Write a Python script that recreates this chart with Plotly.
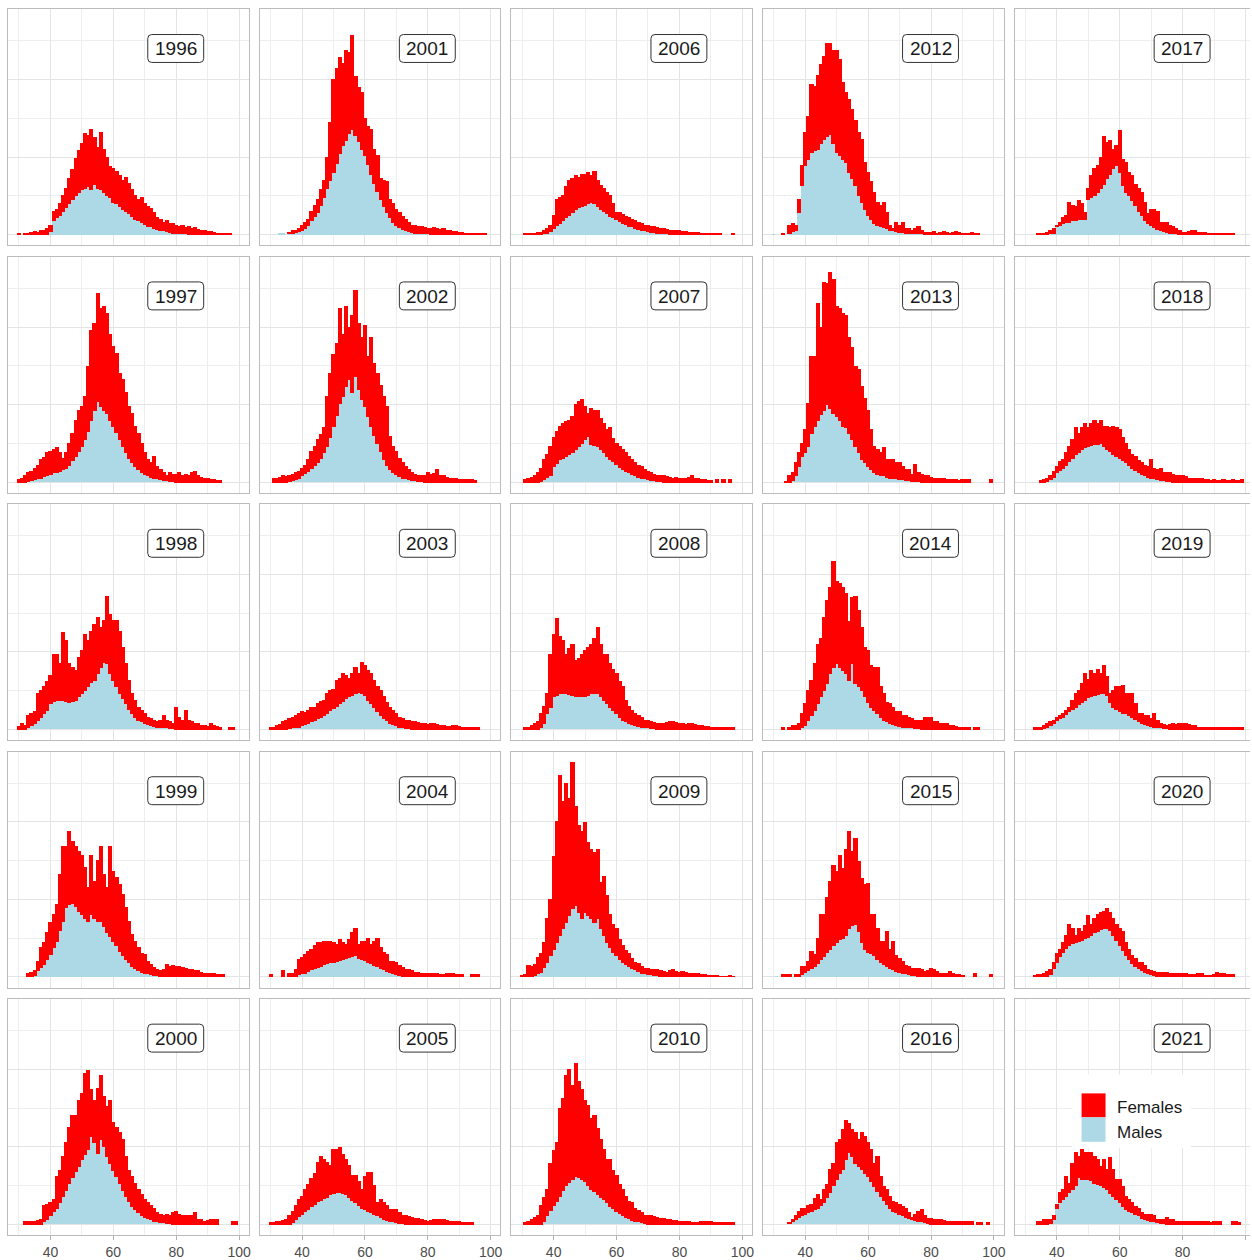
import plotly.graph_objects as go

W, H = 1252, 1260

# histogram bins (1-unit wide, centres)
bins = list(range(30, 100))

# panel order (column-major, 5 x 5 facets)
panel_years = [1996, 1997, 1998, 1999, 2000,
               2001, 2002, 2003, 2004, 2005,
               2006, 2007, 2008, 2009, 2010,
               2012, 2013, 2014, 2015, 2016,
               2017, 2018, 2019, 2020, 2021]

x_ticks = [40, 60, 80, 100]
x_minor = [30, 50, 70, 90]
y_major = [0, 100, 200]
y_minor = [50, 150, 250]

# total = height of the stacked bar (females + males); males = lower part
total_1996 = [1, 0, 2, 2, 3, 4, 3, 6, 5, 8,
              12, 30, 32, 40, 50, 60, 72, 84, 98, 108,
              118, 130, 128, 136, 125, 112, 132, 110, 100, 88,
              85, 82, 76, 70, 74, 66, 58, 50, 46, 48,
              40, 36, 34, 28, 22, 20, 16, 18, 14, 15,
              12, 10, 12, 9, 10, 8, 9, 7, 6, 5,
              4, 4, 3, 2, 2, 1, 1, 1, 0, 0]
males_1996 = [0, 0, 0, 0, 0, 0, 0, 0, 0, 0,
              4, 18, 22, 25, 30, 35, 40, 45, 50, 55,
              58, 60, 62, 58, 65, 60, 58, 55, 50, 48,
              42, 40, 36, 32, 30, 27, 24, 20, 18, 16,
              13, 11, 10, 8, 7, 6, 5, 4, 3, 2,
              2, 1, 1, 1, 0, 0, 0, 0, 0, 0,
              0, 0, 0, 0, 0, 0, 0, 0, 0, 0]

total_1997 = [3, 5, 8, 12, 14, 18, 22, 29, 32, 38,
              40, 42, 44, 38, 30, 38, 50, 63, 80, 93,
              97, 110, 149, 196, 204, 243, 224, 226, 217, 191,
              175, 166, 140, 132, 115, 97, 89, 72, 63, 50,
              38, 29, 25, 33, 20, 16, 12, 8, 12, 10,
              10, 12, 8, 10, 8, 12, 14, 8, 6, 5,
              5, 3, 3, 2, 2, 0, 0, 0, 0, 0]
males_1997 = [0, 0, 0, 1, 2, 3, 4, 5, 7, 9,
              10, 12, 13, 14, 16, 18, 22, 28, 33, 40,
              46, 55, 65, 80, 93, 104, 97, 93, 89, 80,
              72, 64, 55, 46, 38, 31, 25, 20, 16, 13,
              10, 8, 6, 5, 4, 3, 2, 2, 1, 1,
              0, 0, 0, 0, 0, 0, 0, 0, 0, 0,
              0, 0, 0, 0, 0, 0, 0, 0, 0, 0]

total_1998 = [4, 8, 5, 18, 20, 23, 46, 50, 55, 62,
              70, 97, 97, 85, 125, 115, 85, 80, 76, 93,
              102, 123, 115, 127, 135, 145, 132, 141, 172, 149,
              141, 141, 127, 106, 85, 63, 46, 38, 29, 25,
              20, 16, 14, 12, 10, 12, 18, 12, 10, 8,
              29, 16, 12, 25, 12, 10, 8, 8, 5, 5,
              4, 8, 5, 4, 3, 0, 0, 3, 3, 0]
males_1998 = [0, 0, 0, 3, 5, 8, 12, 16, 20, 25,
              33, 36, 38, 38, 38, 36, 35, 36, 38, 42,
              46, 50, 55, 60, 63, 72, 80, 87, 85, 72,
              63, 55, 46, 40, 33, 26, 20, 15, 12, 10,
              8, 6, 5, 4, 3, 3, 2, 2, 1, 1,
              0, 0, 0, 0, 0, 0, 0, 0, 0, 0,
              0, 0, 0, 0, 0, 0, 0, 0, 0, 0]

total_1999 = [0, 0, 0, 5, 6, 8, 20, 38, 45, 57,
              70, 80, 93, 132, 168, 168, 187, 175, 168, 162,
              157, 141, 115, 157, 123, 150, 168, 132, 115, 168,
              136, 128, 119, 106, 89, 72, 55, 46, 38, 30,
              29, 20, 16, 12, 10, 8, 10, 16, 14, 15,
              14, 13, 12, 11, 10, 10, 8, 8, 6, 5,
              4, 4, 4, 3, 3, 3, 0, 0, 0, 0]
males_1999 = [0, 0, 0, 0, 0, 2, 8, 12, 16, 22,
              29, 38, 46, 60, 72, 89, 93, 95, 91, 85,
              80, 76, 72, 80, 76, 72, 72, 65, 57, 52,
              46, 40, 33, 28, 23, 18, 14, 11, 8, 6,
              5, 4, 3, 2, 2, 1, 1, 0, 0, 0,
              0, 0, 0, 0, 0, 0, 0, 0, 0, 0,
              0, 0, 0, 0, 0, 0, 0, 0, 0, 0]

total_2000 = [0, 0, 4, 4, 4, 4, 5, 6, 24, 26,
              28, 32, 62, 70, 88, 106, 125, 140, 140, 160,
              169, 194, 199, 174, 160, 175, 192, 165, 152, 160,
              131, 125, 118, 109, 88, 70, 62, 53, 45, 38,
              32, 28, 24, 21, 15, 13, 11, 13, 12, 15,
              17, 13, 12, 11, 11, 11, 15, 6, 6, 4,
              5, 6, 6, 6, 0, 0, 0, 0, 3, 3]
males_2000 = [0, 0, 0, 0, 0, 0, 0, 0, 3, 6,
              11, 16, 21, 28, 36, 44, 53, 60, 68, 75,
              83, 90, 96, 113, 105, 92, 109, 100, 88, 79,
              70, 62, 53, 44, 36, 29, 23, 19, 15, 12,
              9, 7, 6, 4, 3, 2, 2, 1, 1, 0,
              0, 0, 0, 0, 0, 0, 0, 0, 0, 0,
              0, 0, 0, 0, 0, 0, 0, 0, 0, 0]

total_2001 = [0, 0, 0, 2, 2, 0, 3, 5, 6, 8,
              12, 16, 20, 30, 38, 46, 58, 70, 100, 145,
              200, 215, 228, 221, 238, 235, 257, 204, 190, 183,
              150, 140, 136, 110, 102, 72, 70, 68, 46, 40,
              33, 28, 24, 20, 16, 12, 12, 10, 10, 9,
              8, 8, 9, 8, 7, 8, 6, 5, 4, 4,
              3, 3, 2, 2, 2, 2, 2, 2, 1, 0]
males_2001 = [0, 0, 0, 2, 2, 0, 1, 2, 3, 4,
              5, 8, 12, 18, 24, 29, 38, 48, 60, 70,
              80, 92, 105, 115, 122, 130, 136, 128, 120, 110,
              102, 90, 78, 66, 56, 46, 36, 28, 22, 16,
              12, 9, 7, 5, 4, 3, 2, 2, 1, 1,
              1, 0, 0, 0, 0, 0, 0, 0, 0, 0,
              0, 0, 0, 0, 0, 0, 0, 0, 0, 0]

total_2002 = [0, 4, 5, 6, 8, 7, 8, 10, 12, 14,
              18, 22, 29, 40, 46, 55, 62, 70, 110, 140,
              165, 179, 224, 191, 226, 200, 215, 247, 204, 187,
              202, 162, 187, 153, 140, 125, 110, 97, 59, 46,
              40, 31, 25, 20, 16, 12, 10, 8, 9, 8,
              12, 10, 11, 16, 8, 8, 6, 5, 5, 4,
              3, 3, 3, 3, 3, 2, 0, 0, 0, 0]
males_2002 = [0, 0, 0, 0, 0, 0, 1, 2, 3, 5,
              8, 11, 14, 18, 21, 25, 31, 38, 46, 58,
              72, 86, 102, 110, 123, 132, 115, 136, 119, 106,
              97, 85, 72, 60, 50, 40, 29, 22, 16, 12,
              10, 7, 5, 4, 3, 2, 2, 1, 1, 0,
              0, 0, 0, 0, 0, 0, 0, 0, 0, 0,
              0, 0, 0, 0, 0, 0, 0, 0, 0, 0]

total_2003 = [3, 3, 5, 6, 10, 12, 14, 16, 18, 20,
              23, 22, 25, 28, 29, 33, 36, 38, 46, 50,
              52, 63, 66, 72, 70, 66, 72, 80, 72, 87,
              82, 76, 72, 63, 55, 50, 42, 35, 29, 25,
              20, 16, 14, 12, 11, 10, 10, 9, 8, 8,
              7, 8, 8, 6, 5, 5, 4, 4, 5, 5,
              4, 3, 3, 3, 2, 3, 3, 0, 0, 0]
males_2003 = [0, 0, 0, 0, 0, 0, 1, 2, 3, 3,
              5, 6, 8, 10, 12, 14, 16, 18, 20, 24,
              27, 30, 33, 36, 40, 42, 44, 46, 48, 46,
              44, 38, 33, 28, 23, 18, 14, 11, 8, 6,
              5, 3, 2, 1, 1, 0, 0, 0, 0, 0,
              0, 0, 0, 0, 0, 0, 0, 0, 0, 0,
              0, 0, 0, 0, 0, 0, 0, 0, 0, 0]

total_2004 = [3, 0, 0, 0, 8, 0, 5, 5, 10, 23,
              25, 29, 33, 35, 40, 44, 44, 46, 46, 46,
              44, 42, 48, 45, 42, 48, 57, 62, 42, 46,
              46, 50, 42, 46, 50, 38, 32, 29, 20, 20,
              18, 15, 12, 10, 9, 8, 6, 6, 5, 5,
              4, 4, 4, 4, 3, 3, 4, 5, 5, 3,
              3, 3, 0, 0, 3, 3, 3, 0, 0, 0]
males_2004 = [0, 0, 0, 0, 0, 0, 0, 0, 1, 3,
              4, 5, 7, 9, 11, 12, 14, 16, 17, 18,
              19, 20, 21, 23, 24, 25, 26, 28, 24, 22,
              21, 19, 17, 15, 13, 11, 9, 7, 6, 4,
              3, 2, 1, 1, 0, 0, 0, 0, 0, 0,
              0, 0, 0, 0, 0, 0, 0, 0, 0, 0,
              0, 0, 0, 0, 0, 0, 0, 0, 0, 0]

total_2005 = [2, 2, 4, 4, 5, 6, 12, 17, 24, 32,
              36, 45, 52, 59, 66, 80, 88, 84, 80, 76,
              97, 97, 99, 90, 84, 76, 63, 63, 55, 45,
              62, 67, 67, 50, 28, 32, 28, 24, 19, 19,
              19, 15, 11, 11, 10, 9, 8, 7, 6, 5,
              4, 5, 6, 6, 6, 6, 5, 4, 4, 3,
              3, 2, 2, 2, 2, 0, 0, 0, 0, 0]
males_2005 = [0, 0, 0, 0, 0, 0, 0, 2, 6, 10,
              13, 16, 19, 23, 26, 29, 31, 33, 35, 38,
              40, 41, 41, 40, 38, 35, 31, 28, 24, 21,
              19, 17, 15, 13, 11, 9, 6, 5, 4, 3,
              2, 1, 1, 0, 0, 0, 0, 0, 0, 0,
              0, 0, 0, 0, 0, 0, 0, 0, 0, 0,
              0, 0, 0, 0, 0, 0, 0, 0, 0, 0]

total_2006 = [0, 1, 1, 2, 2, 3, 3, 5, 8, 12,
              25, 46, 48, 50, 62, 70, 72, 76, 74, 78,
              78, 80, 76, 82, 70, 63, 60, 55, 50, 40,
              29, 28, 26, 23, 22, 20, 18, 16, 14, 12,
              12, 10, 10, 9, 8, 8, 7, 6, 6, 5,
              5, 4, 4, 3, 3, 3, 3, 2, 2, 2,
              2, 2, 2, 1, 0, 0, 0, 2, 0, 0]
males_2006 = [0, 0, 0, 0, 0, 0, 0, 1, 2, 4,
              8, 12, 15, 18, 22, 25, 28, 32, 35, 37,
              38, 40, 41, 40, 36, 32, 30, 27, 24, 22,
              20, 17, 15, 13, 11, 10, 8, 7, 6, 5,
              4, 3, 3, 2, 2, 1, 1, 0, 0, 0,
              0, 0, 0, 0, 0, 0, 0, 0, 0, 0,
              0, 0, 0, 0, 0, 0, 0, 0, 0, 0]

total_2007 = [0, 3, 5, 6, 8, 12, 18, 29, 36, 46,
              57, 65, 72, 76, 78, 80, 85, 100, 104, 106,
              98, 89, 95, 92, 93, 82, 75, 68, 70, 56,
              50, 46, 42, 38, 33, 29, 25, 22, 20, 16,
              14, 12, 10, 9, 8, 8, 7, 6, 5, 6,
              5, 5, 4, 6, 8, 5, 4, 3, 3, 2,
              2, 0, 3, 0, 3, 0, 3, 0, 0, 0]
males_2007 = [0, 0, 0, 0, 0, 0, 1, 3, 6, 9,
              20, 24, 29, 31, 33, 35, 38, 42, 46, 50,
              55, 59, 48, 47, 46, 42, 38, 33, 29, 26,
              23, 19, 16, 14, 12, 10, 8, 6, 5, 4,
              3, 2, 2, 1, 1, 0, 0, 0, 0, 0,
              0, 0, 0, 0, 0, 0, 0, 0, 0, 0,
              0, 0, 0, 0, 0, 0, 0, 0, 0, 0]

total_2008 = [0, 3, 3, 5, 8, 10, 20, 30, 46, 97,
              123, 143, 120, 115, 97, 104, 110, 89, 92, 97,
              102, 106, 110, 118, 132, 110, 97, 97, 85, 78,
              72, 62, 55, 38, 30, 25, 20, 18, 16, 12,
              11, 10, 9, 8, 8, 8, 9, 10, 10, 9,
              8, 8, 7, 8, 8, 6, 5, 5, 4, 4,
              3, 3, 3, 2, 2, 2, 3, 3, 0, 0]
males_2008 = [0, 0, 0, 0, 0, 0, 3, 8, 20, 29,
              42, 44, 46, 46, 46, 45, 44, 43, 42, 42,
              42, 44, 46, 46, 46, 42, 38, 33, 29, 24,
              20, 16, 12, 10, 8, 6, 5, 4, 3, 2,
              2, 1, 1, 0, 0, 0, 0, 0, 0, 0,
              0, 0, 0, 0, 0, 0, 0, 0, 0, 0,
              0, 0, 0, 0, 0, 0, 0, 0, 0, 0]

total_2009 = [2, 3, 15, 14, 16, 25, 30, 45, 75, 100,
              156, 200, 260, 226, 250, 230, 277, 220, 196, 187,
              199, 174, 165, 160, 165, 122, 130, 105, 80, 68,
              62, 48, 40, 34, 30, 24, 19, 17, 14, 11,
              11, 10, 9, 9, 8, 7, 6, 8, 9, 7,
              6, 7, 6, 5, 4, 4, 5, 3, 3, 2,
              2, 2, 2, 1, 1, 1, 2, 1, 0, 0]
males_2009 = [0, 0, 0, 1, 2, 4, 6, 12, 19, 28,
              36, 45, 53, 62, 70, 79, 88, 92, 83, 75,
              83, 79, 75, 70, 75, 62, 53, 45, 38, 32,
              27, 23, 19, 16, 13, 11, 9, 7, 5, 4,
              3, 3, 2, 2, 1, 1, 0, 0, 0, 0,
              0, 0, 0, 0, 0, 0, 0, 0, 0, 0,
              0, 0, 0, 0, 0, 0, 0, 0, 0, 0]

total_2010 = [0, 2, 3, 6, 9, 11, 24, 35, 45, 79,
              95, 106, 149, 162, 192, 200, 179, 208, 184, 174,
              160, 153, 136, 140, 123, 110, 97, 84, 84, 70,
              63, 52, 45, 36, 30, 28, 21, 18, 15, 11,
              11, 11, 10, 9, 8, 7, 6, 6, 5, 5,
              4, 3, 3, 3, 2, 2, 2, 3, 4, 4,
              3, 2, 2, 2, 2, 2, 2, 2, 0, 0]
males_2010 = [0, 0, 0, 0, 0, 0, 0, 3, 11, 18,
              24, 30, 36, 43, 50, 54, 58, 62, 60, 58,
              55, 50, 45, 42, 39, 35, 32, 28, 23, 20,
              17, 14, 11, 9, 7, 5, 4, 3, 2, 1,
              0, 0, 0, 0, 0, 0, 0, 0, 0, 0,
              0, 0, 0, 0, 0, 0, 0, 0, 0, 0,
              0, 0, 0, 0, 0, 0, 0, 0, 0, 0]

total_2012 = [1, 0, 0, 1, 0, 12, 14, 12, 46, 89,
              132, 153, 194, 191, 206, 219, 230, 247, 247, 238,
              238, 226, 196, 183, 174, 162, 147, 132, 123, 93,
              80, 68, 55, 42, 38, 42, 29, 12, 8, 16,
              12, 16, 8, 8, 6, 8, 10, 6, 3, 3,
              3, 4, 2, 3, 4, 3, 2, 3, 4, 3,
              2, 2, 2, 3, 2, 1, 0, 0, 0, 0]
males_2012 = [1, 0, 0, 0, 0, 2, 4, 6, 29, 63,
              89, 97, 106, 108, 110, 118, 123, 127, 129, 118,
              106, 102, 97, 93, 80, 72, 63, 50, 42, 33,
              25, 20, 15, 12, 10, 9, 8, 6, 5, 4,
              3, 3, 2, 2, 2, 1, 1, 1, 0, 0,
              0, 0, 0, 0, 0, 0, 0, 0, 0, 0,
              0, 0, 0, 0, 0, 0, 0, 0, 0, 0]

total_2013 = [0, 0, 0, 0, 1, 8, 12, 25, 38, 50,
              68, 102, 162, 162, 230, 200, 258, 256, 270, 262,
              226, 224, 217, 215, 187, 174, 149, 145, 123, 108,
              93, 68, 46, 42, 38, 44, 29, 29, 29, 25,
              25, 20, 16, 16, 10, 23, 12, 10, 9, 8,
              6, 5, 5, 5, 4, 3, 3, 3, 3, 2,
              3, 3, 3, 0, 0, 0, 0, 0, 0, 3]
males_2013 = [0, 0, 0, 0, 0, 0, 2, 8, 20, 33,
              38, 46, 63, 72, 80, 87, 93, 100, 95, 89,
              85, 80, 72, 70, 63, 55, 46, 38, 29, 25,
              20, 16, 12, 10, 9, 8, 6, 5, 5, 4,
              3, 3, 2, 2, 1, 1, 1, 0, 0, 0,
              0, 0, 0, 0, 0, 0, 0, 0, 0, 0,
              0, 0, 0, 0, 0, 0, 0, 0, 0, 0]

total_2014 = [0, 0, 0, 3, 0, 3, 5, 5, 8, 20,
              33, 50, 63, 85, 110, 117, 145, 166, 183, 217,
              191, 189, 183, 176, 140, 170, 172, 153, 132, 106,
              102, 82, 80, 80, 55, 46, 35, 33, 29, 23,
              23, 18, 18, 16, 14, 12, 12, 12, 16, 16,
              16, 10, 10, 8, 8, 8, 5, 5, 4, 3,
              3, 3, 3, 0, 3, 3, 0, 0, 0, 0]
males_2014 = [0, 0, 0, 0, 0, 0, 0, 0, 0, 2,
              5, 12, 18, 25, 33, 42, 50, 59, 72, 80,
              85, 80, 76, 72, 63, 85, 59, 55, 50, 42,
              35, 29, 25, 20, 16, 12, 10, 8, 6, 5,
              4, 3, 3, 2, 2, 1, 1, 0, 0, 0,
              0, 0, 0, 0, 0, 0, 0, 0, 0, 0,
              0, 0, 0, 0, 0, 0, 0, 0, 0, 0]

total_2015 = [0, 1, 0, 3, 3, 3, 0, 3, 3, 14,
              14, 20, 33, 29, 50, 80, 80, 102, 123, 144,
              136, 157, 140, 165, 187, 162, 179, 149, 127, 119,
              121, 80, 80, 63, 46, 46, 59, 36, 46, 28,
              24, 20, 15, 13, 11, 11, 11, 9, 7, 8,
              11, 9, 7, 5, 4, 4, 7, 5, 3, 3,
              2, 0, 0, 0, 4, 0, 0, 0, 0, 3]
males_2015 = [0, 1, 0, 0, 0, 0, 0, 0, 1, 3,
              6, 8, 11, 14, 17, 22, 26, 31, 36, 41,
              45, 48, 50, 53, 62, 66, 68, 59, 45, 36,
              32, 30, 28, 23, 19, 16, 13, 11, 9, 7,
              6, 5, 4, 3, 2, 2, 1, 1, 0, 0,
              0, 0, 0, 0, 0, 0, 0, 0, 0, 0,
              0, 0, 0, 0, 0, 0, 0, 0, 0, 0]

total_2016 = [0, 0, 1, 0, 0, 2, 6, 11, 16, 21,
              21, 24, 26, 33, 39, 32, 45, 51, 71, 79,
              105, 109, 122, 134, 130, 122, 118, 109, 118, 113,
              105, 96, 79, 88, 62, 49, 45, 36, 30, 28,
              26, 23, 20, 15, 9, 13, 16, 19, 11, 8,
              7, 6, 6, 6, 5, 4, 4, 4, 4, 4,
              4, 4, 4, 4, 0, 2, 2, 0, 2, 0]
males_2016 = [0, 0, 1, 0, 0, 1, 3, 6, 9, 11,
              13, 15, 17, 19, 21, 24, 28, 34, 41, 50,
              58, 65, 71, 84, 93, 88, 79, 75, 71, 66,
              62, 55, 49, 42, 36, 31, 26, 21, 17, 15,
              13, 11, 9, 7, 6, 5, 4, 3, 2, 1,
              0, 0, 0, 0, 0, 0, 0, 0, 0, 0,
              0, 0, 0, 0, 0, 0, 0, 0, 0, 0]

total_2017 = [0, 0, 0, 0, 1, 1, 2, 3, 5, 8,
              12, 16, 22, 25, 42, 38, 36, 44, 40, 28,
              60, 76, 85, 89, 100, 127, 119, 121, 110, 115,
              134, 97, 93, 80, 76, 65, 60, 55, 42, 27,
              33, 33, 30, 16, 16, 16, 12, 10, 8, 5,
              3, 3, 4, 5, 6, 3, 3, 3, 2, 2,
              2, 2, 1, 1, 1, 1, 1, 0, 0, 0]
males_2017 = [0, 0, 0, 0, 0, 0, 0, 0, 1, 2,
              10, 12, 14, 16, 16, 18, 18, 19, 20, 20,
              46, 48, 50, 55, 59, 65, 72, 78, 85, 89,
              80, 63, 55, 50, 44, 38, 30, 25, 18, 14,
              12, 9, 7, 6, 4, 3, 2, 1, 1, 0,
              0, 0, 0, 0, 0, 0, 0, 0, 0, 0,
              0, 0, 0, 0, 0, 0, 0, 0, 0, 0]

total_2018 = [0, 0, 0, 0, 0, 2, 3, 5, 8, 14,
              20, 27, 29, 38, 46, 55, 70, 63, 70, 76,
              70, 76, 80, 76, 80, 72, 72, 70, 72, 70,
              68, 57, 50, 42, 35, 33, 28, 25, 22, 20,
              29, 18, 16, 18, 12, 12, 12, 10, 8, 8,
              8, 7, 5, 5, 5, 5, 4, 3, 3, 2,
              3, 2, 2, 3, 2, 2, 3, 2, 2, 3]
males_2018 = [0, 0, 0, 0, 0, 0, 0, 1, 3, 6,
              12, 15, 18, 22, 27, 31, 35, 38, 42, 44,
              46, 47, 48, 49, 50, 46, 42, 40, 35, 33,
              31, 28, 25, 21, 18, 15, 12, 10, 8, 6,
              5, 4, 3, 2, 2, 1, 1, 0, 0, 0,
              0, 0, 0, 0, 0, 0, 0, 0, 0, 0,
              0, 0, 0, 0, 0, 0, 0, 0, 0, 0]

total_2019 = [0, 0, 0, 2, 3, 3, 5, 8, 10, 12,
              16, 18, 20, 25, 29, 38, 46, 50, 59, 72,
              65, 76, 72, 78, 72, 82, 68, 46, 50, 55,
              55, 57, 46, 46, 46, 33, 20, 20, 18, 18,
              14, 20, 12, 8, 6, 5, 6, 8, 7, 8,
              8, 8, 6, 5, 5, 3, 3, 3, 2, 2,
              2, 2, 2, 2, 2, 2, 2, 2, 2, 2]
males_2019 = [0, 0, 0, 0, 0, 0, 1, 3, 5, 8,
              12, 14, 16, 19, 23, 26, 29, 32, 35, 38,
              41, 43, 44, 45, 46, 46, 44, 35, 29, 26,
              23, 21, 20, 18, 16, 13, 10, 8, 7, 5,
              4, 3, 2, 2, 1, 1, 0, 0, 0, 0,
              0, 0, 0, 0, 0, 0, 0, 0, 0, 0,
              0, 0, 0, 0, 0, 0, 0, 0, 0, 0]

total_2020 = [0, 0, 0, 2, 3, 3, 5, 7, 9, 19,
              30, 36, 45, 53, 68, 62, 53, 62, 58, 66,
              79, 68, 75, 81, 83, 85, 88, 83, 75, 68,
              62, 58, 45, 36, 28, 24, 19, 19, 15, 9,
              8, 7, 6, 6, 6, 6, 5, 5, 4, 4,
              4, 4, 3, 3, 3, 4, 4, 2, 2, 2,
              3, 6, 4, 4, 3, 3, 3, 0, 0, 0]
males_2020 = [0, 0, 0, 0, 0, 0, 0, 1, 3, 11,
              19, 26, 32, 37, 41, 43, 45, 46, 47, 49,
              51, 54, 57, 59, 61, 62, 62, 60, 53, 47,
              41, 34, 28, 22, 17, 14, 11, 8, 6, 4,
              3, 2, 1, 1, 0, 0, 0, 0, 0, 0,
              0, 0, 0, 0, 0, 0, 0, 0, 0, 0,
              0, 0, 0, 0, 0, 0, 0, 0, 0, 0]

total_2021 = [0, 0, 0, 0, 3, 4, 6, 6, 6, 11,
              26, 41, 45, 62, 53, 79, 93, 88, 97, 93,
              93, 93, 88, 84, 75, 84, 71, 86, 71, 58,
              58, 49, 36, 32, 28, 23, 21, 15, 13, 13,
              13, 11, 6, 6, 6, 9, 6, 6, 4, 4,
              4, 4, 4, 3, 4, 4, 3, 3, 3, 2,
              3, 3, 3, 0, 0, 0, 3, 3, 2, 0]
males_2021 = [0, 0, 0, 0, 0, 0, 0, 0, 1, 6,
              20, 28, 32, 36, 41, 45, 50, 61, 58, 58,
              58, 56, 53, 52, 50, 48, 45, 40, 36, 32,
              28, 23, 19, 17, 15, 13, 11, 8, 6, 5,
              4, 3, 2, 1, 1, 0, 0, 0, 0, 0,
              0, 0, 0, 0, 0, 0, 0, 0, 0, 0,
              0, 0, 0, 0, 0, 0, 0, 0, 0, 0]

totals = {
    1996: total_1996, 1997: total_1997, 1998: total_1998, 1999: total_1999, 2000: total_2000,
    2001: total_2001, 2002: total_2002, 2003: total_2003, 2004: total_2004, 2005: total_2005,
    2006: total_2006, 2007: total_2007, 2008: total_2008, 2009: total_2009, 2010: total_2010,
    2012: total_2012, 2013: total_2013, 2014: total_2014, 2015: total_2015, 2016: total_2016,
    2017: total_2017, 2018: total_2018, 2019: total_2019, 2020: total_2020, 2021: total_2021,
}
males = {
    1996: males_1996, 1997: males_1997, 1998: males_1998, 1999: males_1999, 2000: males_2000,
    2001: males_2001, 2002: males_2002, 2003: males_2003, 2004: males_2004, 2005: males_2005,
    2006: males_2006, 2007: males_2007, 2008: males_2008, 2009: males_2009, 2010: males_2010,
    2012: males_2012, 2013: males_2013, 2014: males_2014, 2015: males_2015, 2016: males_2016,
    2017: males_2017, 2018: males_2018, 2019: males_2019, 2020: males_2020, 2021: males_2021,
}

FEMALE = "#FF0000"
MALE = "#ADD8E6"
FONT = "Liberation Sans, Arial, Helvetica, sans-serif"
GRID_MAJOR = "#e4e4e4"
GRID_MINOR = "#eeeeee"
BORDER = "#bcbcbc"

ymax = max(max(v) for v in totals.values())
yrange = [-0.05 * ymax, 1.05 * ymax]

fig = go.Figure()
layout = dict(
    width=W, height=H, autosize=False,
    margin=dict(l=0, r=0, t=0, b=0),
    paper_bgcolor="white", plot_bgcolor="white",
    barmode="stack", bargap=0,
    showlegend=False,
    font=dict(family=FONT, color="#1a1a1a"),
)
shapes = []
annotations = []


def px2paper(px, py):
    return px / W, 1 - py / H


def rrect_path(x0, y0, x1, y1, rad):
    def P(px, py):
        a, b = px2paper(px, py)
        return f"{a:.6f},{b:.6f}"
    return (f"M {P(x0 + rad, y0)} L {P(x1 - rad, y0)} Q {P(x1, y0)} {P(x1, y0 + rad)} "
            f"L {P(x1, y1 - rad)} Q {P(x1, y1)} {P(x1 - rad, y1)} "
            f"L {P(x0 + rad, y1)} Q {P(x0, y1)} {P(x0, y1 - rad)} "
            f"L {P(x0, y0 + rad)} Q {P(x0, y0)} {P(x0 + rad, y0)} Z")


PX_PER_UNIT = 3.15
X0 = 26.6

for i, yr in enumerate(panel_years):
    r, c = i % 5, i // 5
    n = i + 1
    xa = "x" if n == 1 else f"x{n}"
    ya = "y" if n == 1 else f"y{n}"
    t = totals[yr]
    m = males[yr]
    fem = [(tt - mm) if (tt - mm) > 0 else None for tt, mm in zip(t, m)]
    mal = [mm if mm > 0 else None for mm in m]

    fig.add_trace(go.Bar(x=bins, y=mal, width=1, name="Males",
                         marker=dict(color=MALE, line=dict(width=0)),
                         xaxis=xa, yaxis=ya, hoverinfo="skip"))
    fig.add_trace(go.Bar(x=bins, y=fem, width=1, name="Females",
                         marker=dict(color=FEMALE, line=dict(color=FEMALE, width=1)),
                         xaxis=xa, yaxis=ya, hoverinfo="skip"))

    left = 8.3 + 252 * c
    right = min(left + 241, W)
    top = 9.3 + 248 * r
    bottom = top + 236.7

    bottom_row = (r == 4)
    layout["xaxis" if n == 1 else f"xaxis{n}"] = dict(
        domain=[left / W, right / W],
        range=[X0, X0 + (right - left) / PX_PER_UNIT],
        anchor=ya,
        tickmode="array", tickvals=x_ticks, ticktext=[str(v) for v in x_ticks],
        showticklabels=bottom_row,
        ticks="outside" if bottom_row else "", ticklen=4, tickwidth=1, tickcolor="#b3b3b3",
        tickfont=dict(size=14, color="#4d4d4d", family=FONT),
        showgrid=True, gridcolor=GRID_MAJOR, gridwidth=1,
        minor=dict(tickvals=x_minor, showgrid=True, gridcolor=GRID_MINOR, gridwidth=1, ticks=""),
        showline=True, mirror=True, linecolor=BORDER, linewidth=1,
        zeroline=False, fixedrange=True,
    )
    layout["yaxis" if n == 1 else f"yaxis{n}"] = dict(
        domain=[1 - bottom / H, 1 - top / H],
        range=yrange,
        anchor=xa,
        tickmode="array", tickvals=y_major,
        showticklabels=False, ticks="",
        showgrid=True, gridcolor=GRID_MAJOR, gridwidth=1,
        minor=dict(tickvals=y_minor, showgrid=True, gridcolor=GRID_MINOR, gridwidth=1, ticks=""),
        showline=True, mirror=(c < 4), linecolor=BORDER, linewidth=1,
        zeroline=False, fixedrange=True,
    )

    # year label (rounded box)
    cx, cy = left + 167.7, top + 39.3
    shapes.append(dict(type="path", xref="paper", yref="paper",
                       path=rrect_path(cx - 28, cy - 14, cx + 28, cy + 14, 4),
                       line=dict(color="#333333", width=1), fillcolor="white", layer="above"))
    ax, ay = px2paper(cx, cy + 0.5)
    annotations.append(dict(x=ax, y=ay, xref="paper", yref="paper", text=str(yr),
                            showarrow=False, xanchor="center", yanchor="middle",
                            font=dict(size=19, color="#1a1a1a", family=FONT)))

# legend (inside the 2021 panel)
def rect(x0, y0, x1, y1, color):
    a0, b1 = px2paper(x0, y0)
    a1, b0 = px2paper(x1, y1)
    return dict(type="rect", xref="paper", yref="paper", x0=a0, x1=a1, y0=b0, y1=b1,
                line=dict(width=0), fillcolor=color, layer="above")

shapes.append(rect(1074, 1077, 1193, 1151, "white"))
shapes.append(rect(1083.3, 1096, 1107.3, 1120, FEMALE))
shapes.append(rect(1083.3, 1120, 1107.3, 1144.5, MALE))
for label, yc in (("Females", 1110.5), ("Males", 1135)):
    ax, ay = px2paper(1116.5, yc)
    annotations.append(dict(x=ax, y=ay, xref="paper", yref="paper", text=label,
                            showarrow=False, xanchor="left", yanchor="middle",
                            font=dict(size=17, color="#1a1a1a", family=FONT)))

layout["shapes"] = shapes
layout["annotations"] = annotations
fig.update_layout(**layout)

fig.write_html("out.html", config={"displayModeBar": False, "staticPlot": True})
